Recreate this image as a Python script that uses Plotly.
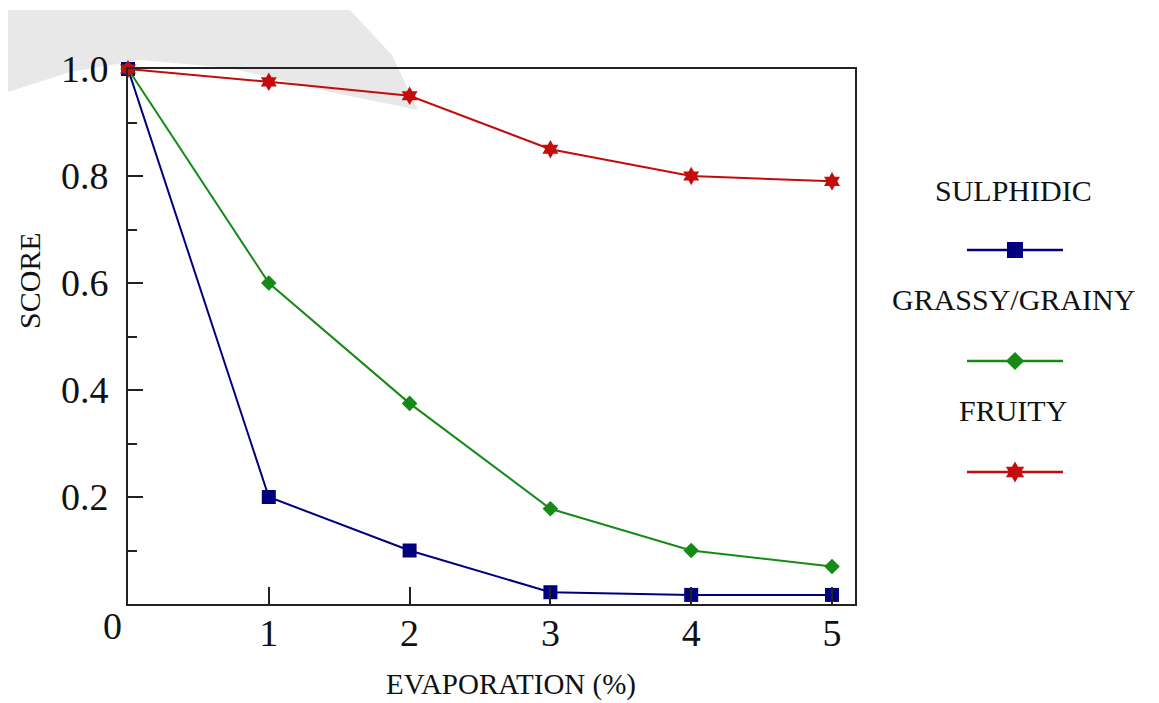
import plotly.graph_objects as go

OFF = 8                      # page body margin in the browser
W, H = 1159 - OFF, 703 - OFF
evaporation = [0, 1, 2, 3, 4, 5]
sulphidic = [1.0, 0.2, 0.1, 0.022, 0.017, 0.017]
grassy = [1.0, 0.6, 0.375, 0.178, 0.1, 0.07]
fruity = [1.0, 0.976, 0.95, 0.85, 0.8, 0.79]
series_names = ["SULPHIDIC", "GRASSY/GRAINY", "FRUITY"]
colors = ["#00007f", "#158a15", "#c40c0c"]
symbols = ["square", "diamond", "hexagram"]
msizes = [14, 12, 14]
ytick_vals = [0.2, 0.4, 0.6, 0.8, 1.0]
ytick_text = ["0.2", "0.4", "0.6", "0.8", "1.0"]
xtick_vals = [1, 2, 3, 4, 5]

FONT = "Liberation Serif"
# plot area in screen pixels
L, R, T, B = 128, 855, 69, 604
L, R, T, B = L - OFF, R - OFF, T - OFF, B - OFF
X5 = 832 - OFF

def px(v):
    return v - OFF

fig = go.Figure()

# faint grey backdrop blob (photo artefact in the original, top-left), under everything
blob = [(8, 10), (350, 10), (392, 55), (418, 110), (330, 92), (230, 68), (140, 60), (70, 72), (8, 92)]
path = "M " + " L ".join(f"{px(x) / W:.4f},{1 - px(y) / H:.4f}" for x, y in blob) + " Z"
fig.add_shape(type="path", path=path, xref="paper", yref="paper", layer="below",
              fillcolor="rgba(0,0,0,0.09)", line=dict(width=0))

for name, ys, c, s, ms in zip(series_names, [sulphidic, grassy, fruity], colors, symbols, msizes):
    fig.add_trace(go.Scatter(x=evaporation, y=ys, mode="lines+markers", name=name,
                             line=dict(color=c, width=2),
                             marker=dict(symbol=s, size=ms, color=c, opacity=1, line=dict(width=0)),
                             showlegend=False, cliponaxis=False))

# custom legend (label above a line sample), on a pixel overlay axis
leg_text_y = [190, 299, 410]
leg_line_y = [250, 361, 472]
for name, c, s, ms, ty, ly in zip(series_names, colors, symbols, msizes, leg_text_y, leg_line_y):
    fig.add_trace(go.Scatter(x=[px(967), px(1063)], y=[px(ly)] * 2, xaxis="x2", yaxis="y2",
                             mode="lines", showlegend=False, hoverinfo="skip",
                             line=dict(color=c, width=2.5)))
    fig.add_trace(go.Scatter(x=[px(1015)], y=[px(ly)], xaxis="x2", yaxis="y2",
                             mode="markers", showlegend=False, hoverinfo="skip",
                             marker=dict(symbol=s, size=ms + 2, color=c, opacity=1, line=dict(width=0))))
    fig.add_annotation(x=px(1013), y=px(ty), xref="x2", yref="y2", text=name, showarrow=False,
                       font=dict(family=FONT, size=30, color="#111"))

fig.add_annotation(x=px(112), y=px(626), xref="x2", yref="y2", text="0", showarrow=False,
                   font=dict(family=FONT, size=38, color="#111"))
fig.add_annotation(x=px(511), y=px(684), xref="x2", yref="y2", text="EVAPORATION (%)", showarrow=False,
                   font=dict(family=FONT, size=29, color="#111"))
fig.add_annotation(x=px(29), y=px(281), xref="x2", yref="y2", text="SCORE", showarrow=False, textangle=-90,
                   font=dict(family=FONT, size=30, color="#111"))

fig.update_layout(
    width=W, height=H, autosize=False,
    margin=dict(l=0, r=0, t=0, b=0, pad=0, autoexpand=False),
    paper_bgcolor="white", plot_bgcolor="rgba(0,0,0,0)",
    font=dict(family=FONT, color="#111"),
    xaxis=dict(domain=[L / W, R / W], range=[0, 5 * (R - L) / (X5 - L)],
               showgrid=False, zeroline=False, showline=True, linecolor="#222", linewidth=2,
               mirror=True, ticks="inside", ticklen=17, tickwidth=2, tickcolor="#222",
               tickvals=xtick_vals, ticktext=[str(v) for v in xtick_vals],
               tickfont=dict(family=FONT, size=38, color="#111"), ticklabelstandoff=-6),
    yaxis=dict(domain=[(H - B) / H, (H - T) / H], range=[0, 1.0],
               showgrid=False, zeroline=False, showline=True, linecolor="#222", linewidth=2,
               mirror=True, ticks="inside", ticklen=15, tickwidth=2, tickcolor="#222",
               tickvals=ytick_vals, ticktext=ytick_text,
               tickfont=dict(family=FONT, size=38, color="#111"), ticklabelstandoff=10,
               minor=dict(tickvals=[0.1, 0.3, 0.5, 0.7, 0.9], ticklen=9, tickwidth=2,
                          tickcolor="#222", ticks="inside")),
    xaxis2=dict(domain=[0, 1], range=[0, W], visible=False, fixedrange=True, anchor="y2"),
    yaxis2=dict(domain=[0, 1], range=[H, 0], visible=False, fixedrange=True, anchor="x2"),
)

fig.write_html("out.html")
